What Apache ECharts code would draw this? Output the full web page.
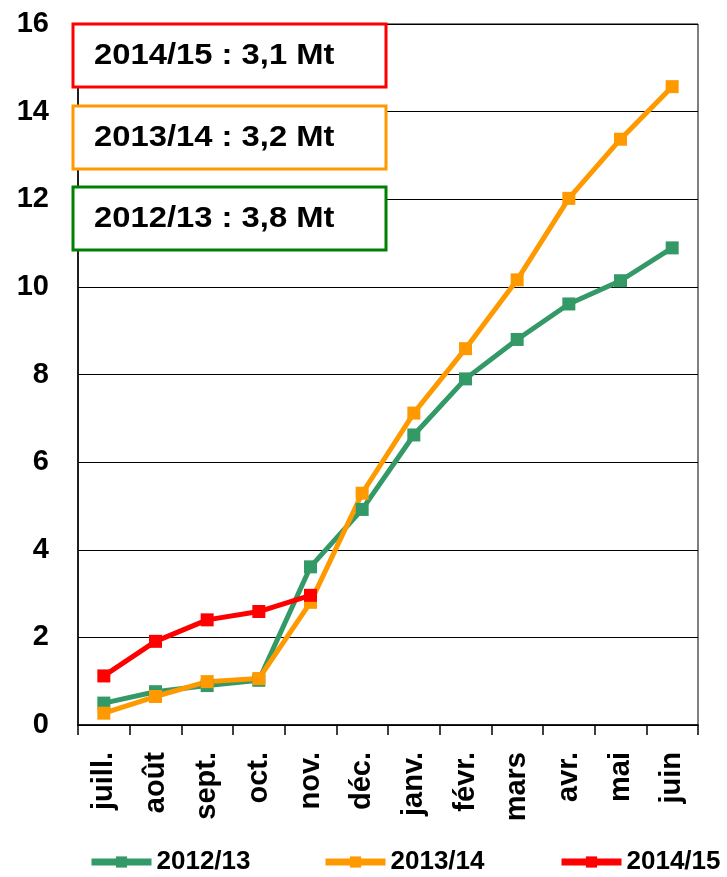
<!DOCTYPE html>
<html>
<head>
<meta charset="utf-8">
<script src="https://cdn.jsdelivr.net/npm/echarts@6/dist/echarts.min.js"></script>
<style>
  html, body { margin: 0; padding: 0; background: #fff; }
  #chart { width: 727px; height: 877px; }
</style>
</head>
<body>
<div id="chart"></div>
<script>
// mois de campagne (juillet -> juin)
const months = ['juill.', 'août', 'sept.', 'oct.', 'nov.', 'déc.', 'janv.', 'févr.', 'mars', 'avr.', 'mai', 'juin']
const campaigns = ['2012/13', '2013/14', '2014/15']
const values1213 = [0.5, 0.76, 0.9, 1.02, 3.61, 4.92, 6.62, 7.9, 8.8, 9.61, 10.14, 10.89]
const values1314 = [0.27, 0.65, 0.99, 1.06, 2.8, 5.29, 7.12, 8.59, 10.16, 12.02, 13.37, 14.57]
const values1415 = [1.12, 1.91, 2.4, 2.59, 2.96]
const yTicks = [0, 2, 4, 6, 8, 10, 12, 14, 16]
const totals = ['2014/15 : 3,1 Mt', '2013/14 : 3,2 Mt', '2012/13 : 3,8 Mt']

const colors = ['#339966', '#FF9900', '#FF0000']
const font = 'Liberation Sans, Arial, Helvetica, sans-serif'

const chart = echarts.init(document.getElementById('chart'))

const makeSeries = (name, data, color) => ({
  name: name,
  type: 'line',
  data: data,
  symbol: 'rect',
  symbolSize: 13,
  color: color,
  lineStyle: { width: 5, color: color },
  itemStyle: { color: color },
  animation: false
})

// cadres des totaux
const boxTop = [24, 106, 187]
const boxColors = ['#FF0000', '#FF9900', '#008000']
const graphics = []
totals.forEach((t, i) => {
  graphics.push({
    type: 'rect',
    shape: { x: 73, y: boxTop[i], width: 313, height: 63 },
    style: { fill: '#fff', stroke: boxColors[i], lineWidth: 3 },
    z: 100
  })
  graphics.push({
    type: 'text',
    x: 94,
    y: boxTop[i] + 32,
    scaleX: 1.13,
    style: {
      text: t,
      fill: '#000',
      font: 'bold 29px ' + font,
      textVerticalAlign: 'middle'
    },
    z: 101
  })
})

const legendLefts = [88, 322, 558]

const option = {
  animation: false,
  grid: {
    left: 78,
    right: 29,
    top: 24,
    bottom: 152,
    show: true,
    borderColor: '#000',
    borderWidth: 1
  },
  legend: campaigns.map((c, i) => ({
    data: [c],
    left: legendLefts[i],
    top: 849,
    padding: 0,
    itemWidth: 60,
    itemHeight: 14,
    itemGap: 4,
    lineStyle: { width: 7 },
    textStyle: { fontFamily: font, fontWeight: 'bold', fontSize: 26, color: '#000', padding: [0, 0, 0, 0] }
  })),
  xAxis: {
    type: 'category',
    data: months,
    boundaryGap: true,
    axisLine: { lineStyle: { color: '#000', width: 1.5 } },
    axisTick: { show: true, length: 10, lineStyle: { color: '#000', width: 1.5 } },
    axisLabel: {
      rotate: 90,
      margin: 27,
      color: '#000',
      fontFamily: font,
      fontWeight: 'bold',
      fontSize: 29,
      interval: 0
    },
    splitLine: { show: false }
  },
  yAxis: {
    type: 'value',
    min: yTicks[0],
    max: yTicks[yTicks.length - 1],
    interval: 2,
    axisLine: { show: true, lineStyle: { color: '#000', width: 1.5 } },
    axisTick: { show: false },
    axisLabel: {
      margin: 29,
      color: '#000',
      fontFamily: font,
      fontWeight: 'bold',
      fontSize: 29
    },
    splitLine: { show: true, lineStyle: { color: '#000', width: 1 } }
  },
  series: [
    makeSeries(campaigns[0], values1213, colors[0]),
    makeSeries(campaigns[1], values1314, colors[1]),
    makeSeries(campaigns[2], values1415, colors[2])
  ],
  graphic: graphics
}

chart.setOption(option)
</script>
</body>
</html>
